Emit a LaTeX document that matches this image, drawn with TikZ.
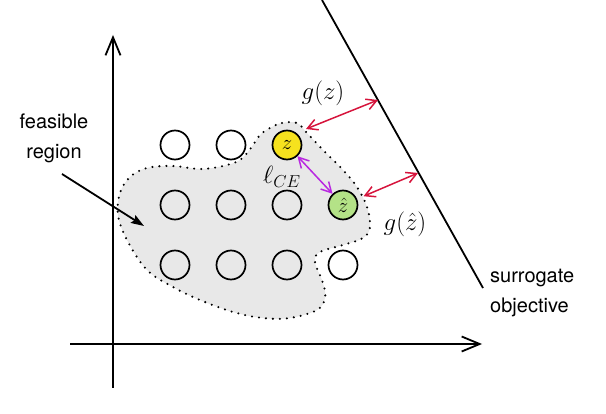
\documentclass[tikz,border=0pt]{standalone}
\usepackage{fontspec}
\newfontfamily\hv{TeX Gyre Heros}
\usetikzlibrary{arrows.meta,calc}
\definecolor{blobgray}{RGB}{232,232,232}
\definecolor{zyellow}{RGB}{246,226,30}
\definecolor{zgreen}{RGB}{180,226,135}
\definecolor{garrow}{RGB}{214,20,60}
\definecolor{larrow}{RGB}{185,40,225}
\begin{document}
\begin{tikzpicture}[x=1pt,y=-1pt,
  pt/.style={circle,draw,line width=1.7pt,minimum size=29pt,inner sep=0pt,font=\fontsize{21}{24}\selectfont},
  ax/.style={line width=1.8pt,-{Straight Barb[length=18pt,width=15pt]}},
  garr/.style={draw=garrow,line width=1.5pt,{Straight Barb[length=10pt,width=11pt]}-{Straight Barb[length=10pt,width=11pt]}},
  larr/.style={draw=larrow,line width=1.5pt,{Straight Barb[length=10pt,width=11pt]}-{Straight Barb[length=10pt,width=11pt]}},
  mlabel/.style={inner sep=0pt,font=\fontsize{23}{26}\selectfont},
  slabel/.style={inner sep=0pt,font=\hv\fontsize{20}{30}\selectfont},
  blob/.style={fill=blobgray,draw=black,line width=2.3pt,line cap=round,dash pattern=on 0pt off 7pt}
]
\useasboundingbox (0,0) rectangle (606,414);
% feasible region
\draw[blob] plot[smooth cycle,tension=0.6] coordinates {
(270,128) (282,123) (297,123) (307,133) (323,150) (343,170) (357,187) (367,207)
(370,227) (363,238) (343,245) (320,252) (315,262) (323,283) (325,298) (317,310)
(290,318) (263,318) (233,312) (200,300) (173,287) (147,270) (127,240) (118,215)
(120,193) (130,177) (147,168) (173,166) (200,169) (223,166) (240,160) (251,148) (260,135)};
% axes
\coordinate (yb) at (113,388);
\coordinate (yt) at (113,35);
\coordinate (xl) at (70,344);
\coordinate (xr) at (482,344);
\draw[ax] (yb) -- (yt);
\draw[ax] (xl) -- (xr);
% points
\node[pt] (a1) at (175,145) {};
\node[pt] (a2) at (231,145) {};
\node[pt,fill=zyellow] (z) at (287,145) {$z$};
\node[pt] (b1) at (175,205) {};
\node[pt] (b2) at (231,205) {};
\node[pt] (b3) at (287,205) {};
\node[pt,fill=zgreen] (zh) at (343,205) {$\hat{z}$};
\node[pt] (c1) at (175,265) {};
\node[pt] (c2) at (231,265) {};
\node[pt] (c3) at (287,265) {};
\node[pt] (c4) at (343,265) {};
% surrogate objective
\coordinate (s1) at (322,0);
\coordinate (s2) at (483,288);
\draw[line width=1.8pt] (s1) -- (s2);
\coordinate (pz) at (378,100);
\coordinate (pzh) at (418,173);
\coordinate (zs) at (306,129);
\draw[garr] (zs) -- (pz);
\draw[garr,shorten <=7pt] (zh) -- (pzh);
\draw[larr] (z) -- (zh);
% labels
\node[mlabel] (gz) at (323,93) {$g(z)$};
\node[mlabel] (gzh) at (405,224) {$g(\hat{z})$};
\node[mlabel] (lce) at (282,177) {$\ell_{CE}$};
\node[slabel,align=center] (fr) at (54,138) {feasible\\region};
\coordinate (frt) at (144,226);
\draw[line width=1.8pt,-{Stealth[length=13pt,width=9pt,inset=2pt]}] (62,174) -- (frt);
\node[slabel,align=left,anchor=west] (so) at (490,293) {surrogate\\objective};
\end{tikzpicture}
\end{document}
